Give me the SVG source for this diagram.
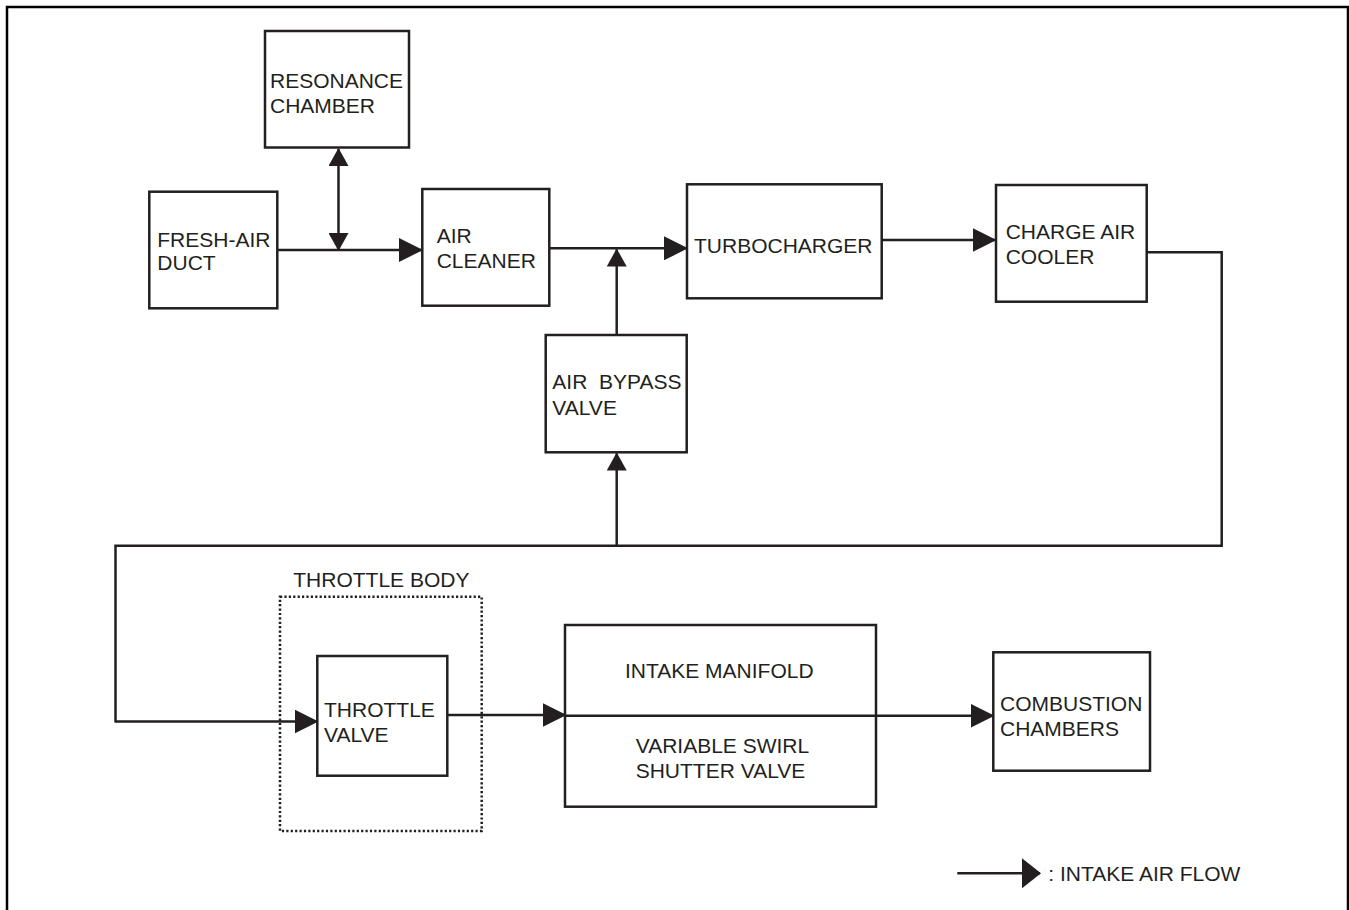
<svg xmlns="http://www.w3.org/2000/svg" width="1349" height="910" viewBox="0 0 1349 910">
<style>
.box{fill:none;stroke:#231f20;stroke-width:2.5}
.ln{fill:none;stroke:#231f20;stroke-width:2.5}
.dot{fill:none;stroke:#231f20;stroke-width:2.5;stroke-dasharray:2.2 2.2}
text{font-family:"Liberation Sans",Arial,Helvetica,sans-serif;font-size:21px;fill:#231f20}
</style>
<defs>
<marker id="ah" markerUnits="userSpaceOnUse" markerWidth="24" markerHeight="24" refX="23" refY="12" orient="auto"><path d="M0,0 L24,12 L0,24 Z" fill="#231f20"/></marker>
<marker id="av" markerUnits="userSpaceOnUse" markerWidth="18" markerHeight="20" refX="17" refY="10" orient="auto"><path d="M0,0 L18,10 L0,20 Z" fill="#231f20"/></marker>
<marker id="avs" markerUnits="userSpaceOnUse" markerWidth="18" markerHeight="20" refX="17" refY="10" orient="auto-start-reverse"><path d="M0,0 L18,10 L0,20 Z" fill="#231f20"/></marker>
<marker id="al" markerUnits="userSpaceOnUse" markerWidth="19" markerHeight="30" refX="18" refY="15" orient="auto"><path d="M0,0 L19,15 L0,30 Z" fill="#231f20"/></marker>
</defs>
<rect x="7" y="7" width="1341" height="930" fill="none" stroke="#000" stroke-width="2.5"/>
<g id="connectors">
<line class="ln" x1="277" y1="250" x2="422" y2="250" marker-end="url(#ah)"/>
<line class="ln" x1="338.5" y1="149" x2="338.5" y2="250" marker-start="url(#avs)" marker-end="url(#avs)"/>
<line class="ln" x1="549" y1="248.3" x2="687" y2="248.3" marker-end="url(#ah)"/>
<line class="ln" x1="616.7" y1="335" x2="616.7" y2="249.5" marker-end="url(#av)"/>
<line class="ln" x1="881.7" y1="240" x2="995.5" y2="240" marker-end="url(#ah)"/>
<path class="ln" d="M1147,252.3 H1221.7 V545.7 H115.5 V722.5"/>
<line class="ln" x1="115.5" y1="721.5" x2="317.5" y2="721.5" marker-end="url(#ah)"/>
<line class="ln" x1="616.7" y1="545.7" x2="616.7" y2="453.5" marker-end="url(#av)"/>
<line class="ln" x1="447.3" y1="715" x2="565.5" y2="715" marker-end="url(#ah)"/>
<line class="ln" x1="565" y1="715.7" x2="993.5" y2="715.7" marker-end="url(#ah)"/>
<line class="ln" x1="957.3" y1="873.3" x2="1040" y2="873.3" marker-end="url(#al)"/>
</g>
<g id="resonance-chamber">
<rect class="box" x="265" y="31" width="144" height="116.5"/>
<text x="270" y="88">RESONANCE</text>
<text x="270" y="113">CHAMBER</text>
</g>
<g id="fresh-air-duct">
<rect class="box" x="149.3" y="191.7" width="128" height="116.6"/>
<text x="157.3" y="246.7">FRESH-AIR</text>
<text x="157.3" y="270">DUCT</text>
</g>
<g id="air-cleaner">
<rect class="box" x="422.3" y="189" width="127" height="116.7"/>
<text x="436.7" y="243.3">AIR</text>
<text x="436.7" y="267.7">CLEANER</text>
</g>
<g id="turbocharger">
<rect class="box" x="687" y="184.3" width="194.7" height="114"/>
<text x="694" y="253.3">TURBOCHARGER</text>
</g>
<g id="charge-air-cooler">
<rect class="box" x="996" y="185" width="150.7" height="116.7"/>
<text x="1005.7" y="239">CHARGE AIR</text>
<text x="1005.7" y="264">COOLER</text>
</g>
<g id="air-bypass-valve">
<rect class="box" x="545.7" y="335" width="141" height="117.3"/>
<text x="552.3" y="389" xml:space="preserve">AIR  BYPASS</text>
<text x="552.3" y="415">VALVE</text>
</g>
<g id="throttle-body">
<rect class="dot" x="280" y="596.7" width="201.7" height="234.3"/>
<text x="293.3" y="587.3">THROTTLE BODY</text>
</g>
<g id="throttle-valve">
<rect class="box" x="317.3" y="656" width="130" height="119.7"/>
<text x="324" y="717.3">THROTTLE</text>
<text x="324" y="741.7">VALVE</text>
</g>
<g id="intake-manifold">
<rect class="box" x="565" y="625" width="311" height="181.7"/>
<text x="625" y="678.3">INTAKE MANIFOLD</text>
<text x="635.7" y="752.7">VARIABLE SWIRL</text>
<text x="635.7" y="777.7">SHUTTER VALVE</text>
</g>
<g id="combustion-chambers">
<rect class="box" x="993.3" y="652.3" width="156.7" height="118.4"/>
<text x="1000" y="711">COMBUSTION</text>
<text x="1000" y="736">CHAMBERS</text>
</g>
<g id="legend">
<text x="1048.3" y="880.7">: INTAKE AIR FLOW</text>
</g>
</svg>
